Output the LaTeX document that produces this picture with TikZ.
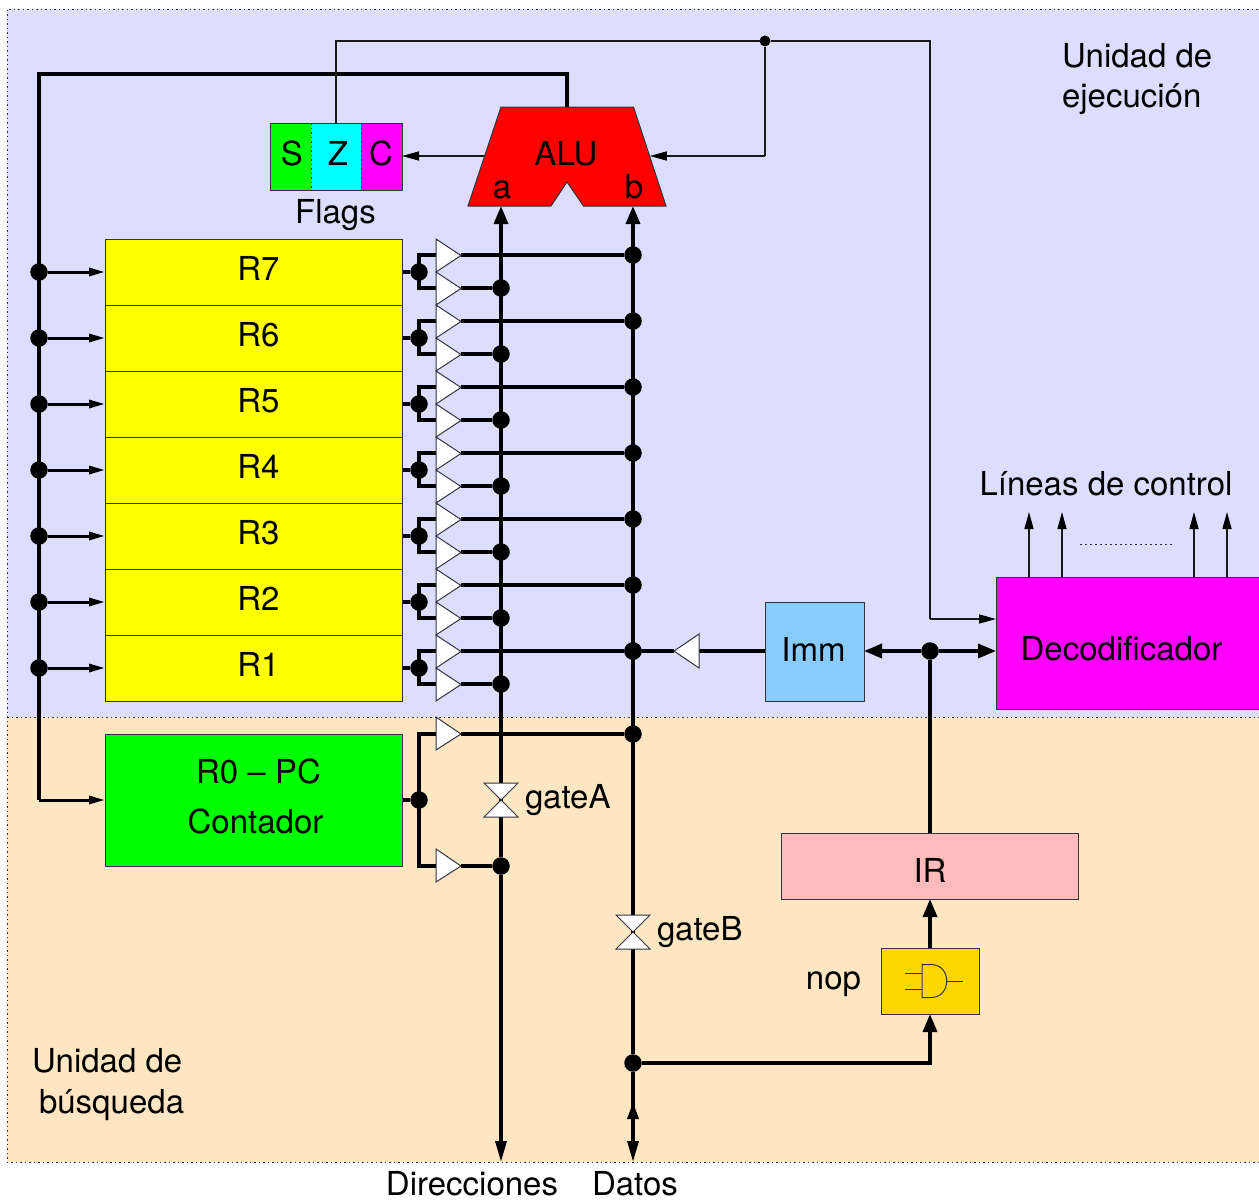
\documentclass[tikz,border=0pt]{standalone}
\usepackage{fontspec}
\setmainfont{TeX Gyre Heros}
\usetikzlibrary{arrows.meta,calc}
\pgfdeclarelayer{bg}\pgfdeclarelayer{wires}
\pgfsetlayers{bg,wires,main}
\definecolor{blueregion}{HTML}{DDDDFF}
\definecolor{orangeregion}{HTML}{FFE6C2}
\definecolor{immblue}{HTML}{88CCFF}
\definecolor{irpink}{HTML}{FFBBBB}
\definecolor{gold}{HTML}{FFD700}
\definecolor{edge}{HTML}{333340}
\definecolor{pureyellow}{HTML}{FFFF00}
\definecolor{puregreen}{HTML}{00FF00}
\definecolor{purecyan}{HTML}{00FFFF}
\definecolor{puremagenta}{HTML}{FF00FF}
\definecolor{purered}{HTML}{FF0000}
\tikzset{
  x=1pt,y=-1pt,
  every node/.style={font=\fontsize{33}{38}\selectfont,inner sep=0pt,outer sep=0pt},
  box/.style={draw=edge,line width=1pt,rectangle,anchor=north west},
  txt/.style={text=black},
  dot/.style={circle,fill=black,minimum size=17.5pt},
  smalldot/.style={circle,fill=black,minimum size=11pt},
  thin wire/.style={line width=1.5pt,draw=black!90},
  bus/.style={line width=3.4pt,draw=black},
  heavy/.style={line width=4.4pt,draw=black},
  big tip/.style={-{Stealth[length=18pt,width=14pt,inset=0pt]}},
  narrow tip/.style={-{Stealth[length=17pt,width=9pt,inset=0pt,black]}},
  region edge/.style={draw=edge,line width=1pt,dash pattern=on 1.5pt off 3pt},
  buffer/.style={draw=edge,line width=1pt,fill=white},
}
\begin{document}
\begin{tikzpicture}
\useasboundingbox (0,0) rectangle (1259,1200);
\begin{pgfonlayer}{bg}
  \fill[blueregion] (7,9) rectangle (1262,717);
  \fill[orangeregion] (7,717) rectangle (1262,1162);
  \draw[region edge] (1262,9) -- (7,9) -- (7,1162) -- (1262,1162);
  \draw[region edge] (7,717) -- (1262,717);
\end{pgfonlayer}

% ---- registers and their buffers
\foreach \n/\yy in {7/239,6/305,5/371,4/437,3/503,2/569,1/635}{
  \node[box,fill=pureyellow,minimum width=297pt,minimum height=66pt] (r\n) at (105,\yy) {\hspace*{10pt}R\n\rule[-8pt]{0pt}{0pt}};
  \node[dot] (tap\n) at (419,\yy+33) {};
  \node[dot] (in\n) at (39,\yy+33) {};
  \coordinate (ubase\n) at (436,\yy+16);
  \coordinate (ltip\n) at (461,\yy+49);
  \coordinate (lbase\n) at (436,\yy+49);
  \coordinate (utip\n) at (461,\yy+16);
  \draw[buffer] (436,\yy) -- (461,\yy+16.5) -- (436,\yy+33) -- cycle;
  \draw[buffer] (436,\yy+33) -- (461,\yy+49.5) -- (436,\yy+66) -- cycle;
  \node[dot] (bb\n) at (633,\yy+16) {};
  \node[dot] (ab\n) at (501,\yy+49) {};
  \begin{pgfonlayer}{wires}
    \draw[bus] (r\n.east|-tap\n) -- (tap\n);
    \draw[bus,line cap=butt] (ubase\n) -| (tap\n.center) |- (lbase\n);
    \draw[bus] (utip\n) -- (bb\n);
    \draw[bus] (ltip\n) -- (ab\n);
    \draw[line width=3pt,-{Stealth[length=16pt,width=8pt,inset=0pt]}] (in\n) -- (r\n.west|-in\n);
  \end{pgfonlayer}
}

% ---- PC
\node[box,fill=puregreen,minimum width=297pt,minimum height=132pt] (pc) at (105,734) {};
\node[txt] (pcname) at (258.5,771) {R0 -- PC};
\node[txt] (pccount) at (255.5,821) {Contador};
\node[dot] (pctap) at (419,800) {};
\draw[buffer] (436,717) -- (461,734) -- (436,750) -- cycle;
\draw[buffer] (436,849) -- (461,866) -- (436,882) -- cycle;
\coordinate (pcub) at (436,734);
\coordinate (pclb) at (436,866);
\coordinate (pcut) at (461,734);
\coordinate (pclt) at (461,866);
\node[dot] (pcbb) at (633,734) {};
\node[dot] (pcab) at (501,866) {};

% ---- ALU
\draw[draw=edge,line width=1pt,fill=purered] (501,107) -- (633.5,107) -- (666,206) -- (583.5,206) -- (567,182) -- (551,206) -- (468,206) -- cycle;
\node[txt] (alutext) at (566,154) {ALU};
\node[txt] (alua) at (502,190) {a};
\node[txt] (alub) at (634,187) {b};
\coordinate (alutop) at (567,107);
\coordinate (aluleft) at (484.7,156);
\coordinate (aluright) at (649.8,156);
\coordinate (aluina) at (501,206);
\coordinate (aluinb) at (633,206);

% ---- flags
\node[anchor=north west,fill=puregreen,minimum width=41pt,minimum height=67pt] (fs) at (270,123) {};
\node[anchor=north west,fill=purecyan,minimum width=50pt,minimum height=67pt] (fz) at (311,123) {};
\node[anchor=north west,fill=puremagenta,minimum width=41pt,minimum height=67pt] (fc) at (361,123) {};
\node[txt] (flagS) at (292,153) {S};
\node[txt] (flagZ) at (338,153) {Z};
\node[txt] (flagC) at (381,153) {C};
\draw[region edge] (fs.north east) -- (fs.south east);
\draw[region edge] (fz.north east) -- (fz.south east);
\node[box,minimum width=132pt,minimum height=67pt] (flags) at (270,123) {};
\node[txt] (flagstext) at (335.5,215) {Flags};
\coordinate (flagsz) at (336,123);
\coordinate (flagsin) at (402,156);

% ---- right side blocks
\node[box,fill=immblue,minimum width=99pt,minimum height=99pt] (imm) at (765,602) {};
\node[txt] (immtext) at (813.5,649) {Imm};
\draw[buffer] (699,634) -- (674,651) -- (699,668) -- cycle;
\coordinate (immbufbase) at (699,651);
\coordinate (immbuftip) at (674,651);
\node[box,fill=puremagenta,minimum width=266pt,minimum height=132pt] (dec) at (996,577) {};
\node[txt] (dectext) at (1121.5,649) {Decodificador};
\node[box,fill=irpink,minimum width=297pt,minimum height=66pt] (ir) at (781,833) {};
\node[txt] (irtext) at (930,870) {IR};
\node[box,fill=gold,minimum width=98pt,minimum height=66pt] (nopbox) at (881,948) {};
\node[txt] (noptext) at (833.5,984) {nop};
\draw[draw=edge,line width=1pt] (922,964.5) -- (931,964.5) .. controls (952,964.5) and (952,997.5) .. (931,997.5) -- (922,997.5) -- cycle;
\draw[draw=edge,line width=1pt] (905,973) -- (922,973) (905,989) -- (922,989) (947,981) -- (963,981);

\node[dot] (junctionb) at (633,651) {};
\node[dot] (junctionir) at (930,651) {};
\node[dot] (junctiond) at (633,1063) {};
\node[smalldot] (fb) at (765,41) {};

% ---- gates
\draw[buffer] (484,783) -- (518,783) -- (484,817) -- (518,817) -- cycle;
\draw[buffer] (616,915) -- (650,915) -- (616,949) -- (650,949) -- cycle;
\node[txt,anchor=west] (gatealabel) at (525,800) {gateA};
\node[txt,anchor=west] (gateblabel) at (657,932) {gateB};

% ---- labels
\node[txt,anchor=west] (ue1) at (1062,56) {Unidad de};
\node[txt,anchor=west] (ue2) at (1062,99) {ejecución};
\node[txt,anchor=west] (ub1) at (32,1061) {Unidad de};
\node[txt,anchor=west] (ub2) at (39,1105) {búsqueda};
\node[txt] (lc) at (1106,484) {Líneas de control};
\node[txt] (dirs) at (472,1184) {Direcciones};
\node[txt] (datos) at (635,1184) {Datos};

\coordinate (ctl1) at (1029,512);
\coordinate (ctl2) at (1062,512);
\coordinate (ctl3) at (1194,512);
\coordinate (ctl4) at (1227,512);
\coordinate (trunktop) at (39,74);
\coordinate (trunkbot) at (39,800);
\coordinate (abot) at (501,1162);
\coordinate (bbot) at (633,1162);
\coordinate (bup) at (633,1102);
\coordinate (bupfrom) at (633,1130);
\coordinate (loopa) at (336,41);
\coordinate (loopb) at (930,41);
\coordinate (loopc) at (930,619);
\coordinate (loopd) at (996,619);
\coordinate (fbdown) at (765,156);

\begin{pgfonlayer}{wires}
  % ALU output to register trunk and PC
  \draw[heavy] (alutop) -- (567,74) -- (trunktop) -- (trunkbot);
  \draw[line width=3pt,-{Stealth[length=16pt,width=8pt,inset=0pt]}] (trunkbot) -- (105,800);
  % thin feedback
  \draw[thin wire] (flagsz) -- (loopa) -- (fb) -- (loopb) -- (loopc);
  \draw[thin wire,narrow tip] (loopc) -- (loopd);
  \draw[thin wire] (fb) -- (fbdown);
  \draw[thin wire,narrow tip] (fbdown) -- (aluright);
  \draw[thin wire,narrow tip] (aluleft) -- (flagsin);
  % buses
  \draw[bus,big tip] (pcab) -- (aluina);
  \draw[bus,-{Stealth[length=21pt,width=11pt,inset=0pt]}] (pcab) -- (abot);
  \draw[bus,big tip] (junctiond) -- (aluinb);
  \draw[bus,-{Stealth[length=21pt,width=11pt,inset=0pt]}] (junctiond) -- (bbot);
  \draw[bus,-{Stealth[length=17pt,width=11pt,inset=0pt]}] (bupfrom) -- (bup);
  % PC tap
  \draw[bus] (pc.east|-pctap) -- (pctap);
  \draw[bus] (pcub) -| (pctap.center) |- (pclb);
  \draw[bus] (pcut) -- (pcbb);
  \draw[bus] (pclt) -- (pcab);
  % Imm
  \draw[bus] (imm.west|-immbufbase) -- (immbufbase);
  \draw[bus] (immbuftip) -- (junctionb);
  \draw[bus] (ir.north-|junctionir) -- (junctionir);
  \draw[bus,big tip] (junctionir) -- (imm.east|-junctionir);
  \draw[bus,big tip] (junctionir) -- (dec.west|-junctionir);
  % IR and nop
  \draw[bus,big tip] (nopbox.north) -- (ir.south-|nopbox.north);
  \draw[bus,big tip] (junctiond) -| (nopbox.south);
  % control lines
  \foreach \c in {1,2,3,4}{
    \draw[thin wire,narrow tip] (ctl\c|-dec.north) -- (ctl\c);
  }
  \draw[draw=edge,line width=1pt,dash pattern=on 1.5pt off 3.5pt] (1080,544) -- (1175,544);
\end{pgfonlayer}
\end{tikzpicture}
\end{document}
